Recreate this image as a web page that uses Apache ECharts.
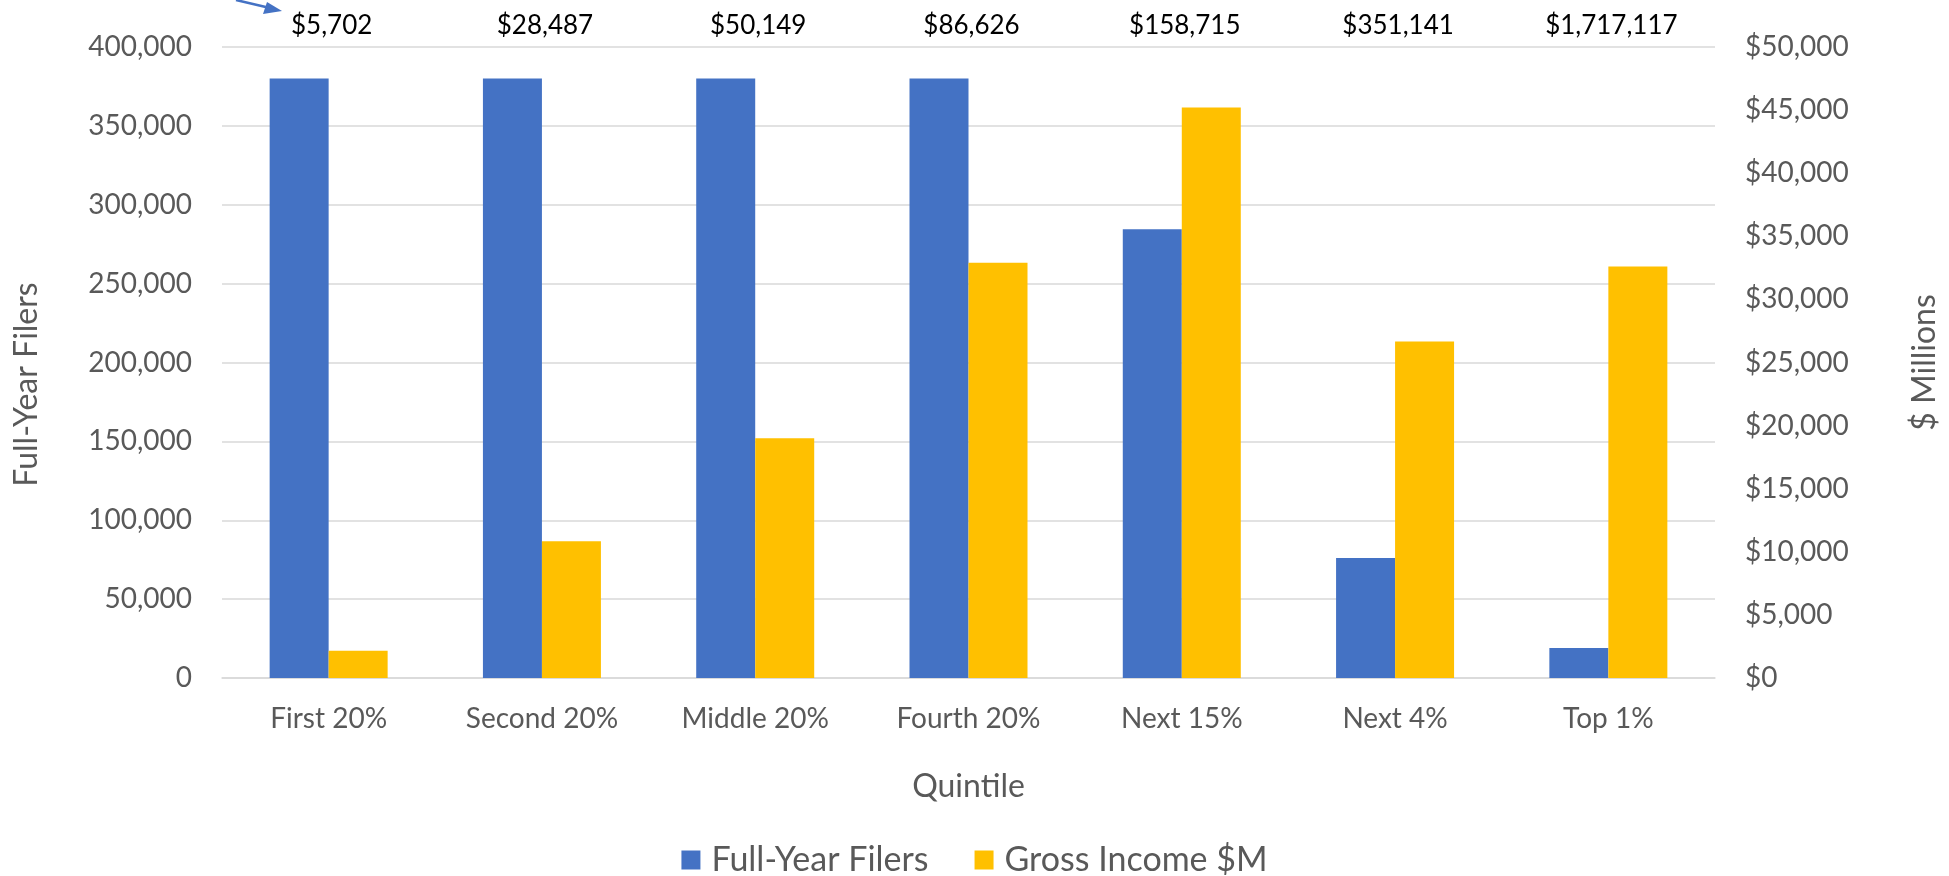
<!DOCTYPE html>
<html>
<head>
<meta charset="utf-8">
<script src="https://cdn.jsdelivr.net/npm/echarts@6/dist/echarts.min.js"></script>
<style>
html,body{margin:0;padding:0;background:#fff;}
#c{width:1949px;height:876px;}
</style>
</head>
<body>
<div id="c"></div>
<script>
const categories = ['First 20%', 'Second 20%', 'Middle 20%', 'Fourth 20%', 'Next 15%', 'Next 4%', 'Top 1%'];
const avgIncomeLabels = ['$5,702', '$28,487', '$50,149', '$86,626', '$158,715', '$351,141', '$1,717,117'];
const fullYearFilers = [380000, 380000, 380000, 380000, 284500, 76000, 19000];
const grossIncomeM = [2150, 10830, 19000, 32900, 45200, 26670, 32600];
const leftTicks = {min: 0, max: 400000, interval: 50000};
const rightTicks = {min: 0, max: 50000, interval: 5000};

const FONT = 'Lato';
const GRAY = '#595959';
const chart = echarts.init(document.getElementById('c'), null, {renderer: 'canvas'});
const fmt = v => v.toLocaleString('en-US');

chart.setOption({
  animation: false,
  backgroundColor: '#ffffff',
  textStyle: {fontFamily: FONT},
  grid: {left: 222, right: 233, top: 47, bottom: 198, containLabel: false},
  legend: {
    bottom: -1,
    left: 'center',
    padding: 0,
    itemWidth: 19,
    itemHeight: 19,
    itemGap: 46,
    icon: 'rect',
    textStyle: {fontFamily: FONT, fontSize: 34, color: GRAY, padding: [0, 0, 0, 6]},
    data: ['Full-Year Filers', 'Gross Income $M']
  },
  xAxis: [{
    type: 'category',
    data: categories,
    position: 'bottom',
    axisLine: {show: true, lineStyle: {color: '#d9d9d9', width: 1.5}},
    axisTick: {show: false},
    axisLabel: {fontFamily: FONT, fontSize: 28, color: GRAY, margin: 27},
    name: 'Quintile',
    nameLocation: 'middle',
    nameGap: 93,
    nameTextStyle: {fontFamily: FONT, fontSize: 32, color: GRAY}
  }, {
    type: 'category',
    data: avgIncomeLabels,
    position: 'top',
    axisLine: {show: false},
    axisTick: {show: false},
    axisLabel: {fontFamily: FONT, fontSize: 26, color: '#000000', margin: 8, padding: [0, 0, 0, 6]}
  }],
  yAxis: [{
    type: 'value',
    min: leftTicks.min, max: leftTicks.max, interval: leftTicks.interval,
    position: 'left',
    axisLine: {show: false},
    axisTick: {show: false},
    splitLine: {show: true, lineStyle: {color: '#d9d9d9', width: 1.5}},
    axisLabel: {fontFamily: FONT, fontSize: 28, color: GRAY, margin: 30, formatter: v => fmt(v)},
    name: 'Full-Year Filers',
    nameLocation: 'middle',
    nameGap: 179,
    nameRotate: 90,
    nameTextStyle: {fontFamily: FONT, fontSize: 32, color: GRAY, padding: [0, 44, 0, 0]}
  }, {
    type: 'value',
    min: rightTicks.min, max: rightTicks.max, interval: rightTicks.interval,
    position: 'right',
    axisLine: {show: false},
    axisTick: {show: false},
    splitLine: {show: false},
    axisLabel: {fontFamily: FONT, fontSize: 28, color: GRAY, margin: 30, formatter: v => '$' + fmt(v)},
    name: '$ Millions',
    nameLocation: 'middle',
    nameGap: 194,
    nameRotate: 90,
    nameTextStyle: {fontFamily: FONT, fontSize: 32, color: GRAY}
  }],
  series: [{
    name: 'Full-Year Filers',
    type: 'bar',
    xAxisIndex: 0,
    yAxisIndex: 0,
    data: fullYearFilers,
    barWidth: 59,
    barGap: '0%',
    itemStyle: {color: '#4472C4'}
  }, {
    name: 'Gross Income $M',
    type: 'bar',
    xAxisIndex: 0,
    yAxisIndex: 1,
    data: grossIncomeM,
    barWidth: 59,
    barGap: '0%',
    itemStyle: {color: '#FFC000'}
  }],
  graphic: [{
    type: 'line',
    shape: {x1: 236, y1: 0, x2: 270, y2: 8},
    style: {stroke: '#4472C4', lineWidth: 2.5}
  }, {
    type: 'polygon',
    shape: {points: [[282, 11], [263, 14], [267, 2]]},
    style: {fill: '#4472C4'}
  }]
});
</script>
</body>
</html>
